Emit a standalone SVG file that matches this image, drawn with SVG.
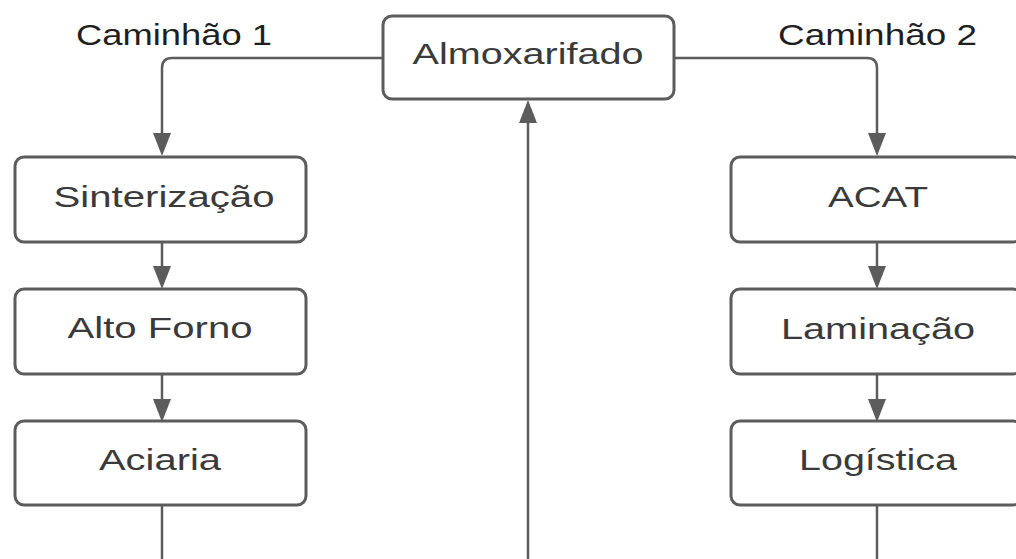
<svg xmlns="http://www.w3.org/2000/svg" width="1016" height="559" viewBox="0 0 1016 559">
  <style>
    .box { fill: #ffffff; stroke: #5c5c5c; stroke-width: 3; }
    .lbl { font-family: "Liberation Sans", Arial, sans-serif; font-size: 29px; fill: #3a3a3a; text-anchor: middle; }
    .cap { font-family: "Liberation Sans", Arial, sans-serif; font-size: 29px; fill: #1f1f1f; }
    .wire { fill: none; stroke: #5c5c5c; stroke-width: 2.5; }
  </style>
  <defs>
    <marker id="arrow" viewBox="0 0 23 18" refX="19" refY="9" markerWidth="23" markerHeight="18" markerUnits="userSpaceOnUse" orient="auto">
      <path d="M0,0 L23,9 L0,18 Z" fill="#5c5c5c"/>
    </marker>
  </defs>
  <rect width="1016" height="559" fill="#ffffff"/>

  <!-- connectors -->
  <g id="connectors">
    <path class="wire" d="M383,58 H172 Q162,58 162,68 V152" marker-end="url(#arrow)"/>
    <path class="wire" d="M674,58 H867 Q877,58 877,68 V152" marker-end="url(#arrow)"/>
    <path class="wire" d="M162,242 V285" marker-end="url(#arrow)"/>
    <path class="wire" d="M162,374 V418" marker-end="url(#arrow)"/>
    <path class="wire" d="M877,242 V285" marker-end="url(#arrow)"/>
    <path class="wire" d="M877,374 V418" marker-end="url(#arrow)"/>
    <path class="wire" d="M162,505 V559"/>
    <path class="wire" d="M877,505 V559"/>
    <path class="wire" d="M528,559 V104" marker-end="url(#arrow)"/>
  </g>

  <!-- edge labels -->
  <text class="cap" x="76" y="45" textLength="196" lengthAdjust="spacingAndGlyphs">Caminhão 1</text>
  <text class="cap" x="778" y="45" textLength="199" lengthAdjust="spacingAndGlyphs">Caminhão 2</text>

  <g id="almoxarifado">
    <rect class="box" x="383" y="16" width="291" height="83" rx="9"/>
    <text class="lbl" x="528" y="64" textLength="231" lengthAdjust="spacingAndGlyphs">Almoxarifado</text>
  </g>

  <g id="sinterizacao">
    <rect class="box" x="15" y="157" width="291" height="85" rx="9"/>
    <text class="lbl" x="164" y="207" textLength="221" lengthAdjust="spacingAndGlyphs">Sinterização</text>
  </g>
  <g id="alto-forno">
    <rect class="box" x="15" y="289" width="291" height="85" rx="9"/>
    <text class="lbl" x="160" y="338" textLength="185" lengthAdjust="spacingAndGlyphs">Alto Forno</text>
  </g>
  <g id="aciaria">
    <rect class="box" x="15" y="421" width="291" height="84" rx="9"/>
    <text class="lbl" x="160" y="470" textLength="122" lengthAdjust="spacingAndGlyphs">Aciaria</text>
  </g>

  <g id="acat">
    <rect class="box" x="731" y="157" width="291" height="85" rx="9"/>
    <text class="lbl" x="878" y="207" textLength="100" lengthAdjust="spacingAndGlyphs">ACAT</text>
  </g>
  <g id="laminacao">
    <rect class="box" x="731" y="289" width="291" height="85" rx="9"/>
    <text class="lbl" x="878" y="339" textLength="194" lengthAdjust="spacingAndGlyphs">Laminação</text>
  </g>
  <g id="logistica">
    <rect class="box" x="731" y="421" width="291" height="84" rx="9"/>
    <text class="lbl" x="878" y="470" textLength="158" lengthAdjust="spacingAndGlyphs">Logística</text>
  </g>
</svg>
